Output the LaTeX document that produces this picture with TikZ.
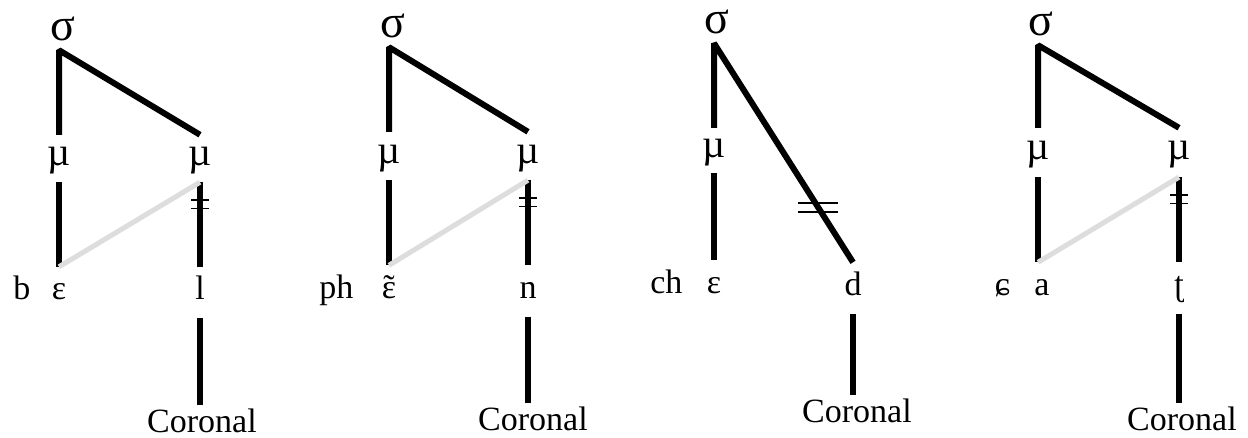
\documentclass[tikz,border=0pt]{standalone}
\usepackage{fontspec}
\setmainfont{Liberation Serif}
\usetikzlibrary{positioning}
\definecolor{linkGray}{RGB}{221,221,221}
\newcommand{\nasaleps}{\ooalign{ε\cr\hidewidth˜\hidewidth\cr}}

\begin{document}
\begin{tikzpicture}[x=1pt, y=-1pt,
    syl/.style={font=\fontsize{46}{46}\selectfont, inner sep=0pt, text height=22pt, text depth=0pt, minimum height=40pt},
    mora/.style={font=\fontsize{40}{40}\selectfont, inner sep=0pt, text height=21pt, text depth=6pt, minimum height=47pt},
    seg/.style={font=\fontsize{34}{34}\selectfont, inner sep=0pt, text height=23pt, text depth=8pt, minimum height=51pt},
    feat/.style={font=\fontsize{34}{34}\selectfont, inner sep=3.5pt, anchor=base},
    assoc/.style={line width=6pt, line join=bevel},
    newlink/.style={line width=5pt, draw=linkGray},
    delink/.style={inner sep=0pt, outer sep=0pt, minimum width=#1, minimum height=8.5pt},
    cut/.style={line width=1.6pt},
]
\useasboundingbox (0,0) rectangle (1248,438);

% b-epsilon-l
\node[syl] (s1) at (63,30) {σ};
\node[mora] (m1a) at (59,158.5) {µ};
\node[mora] (m1b) at (200,158.5) {µ};
\node[seg] (v1) at (59,292.5) {ε};
\node[seg, left=21pt of v1] (o1) {b};
\node[seg] (c1) at (200,292.5) {l};
\node[feat] (f1) at (202,432) {Coronal};
\draw[assoc] (m1a.north) -- (m1a.north |- s1.south) -- (m1b.north);
\draw[assoc] (m1a.south) -- (v1.north);
\draw[assoc] (m1b.south) -- node[delink=18pt, pos=.26] (x1) {} (c1.north);
\draw[assoc] (c1.south) -- (c1.south |- f1.north);
\draw[newlink] (v1.north) -- (m1b.south);
\draw[cut] (x1.north west) -- (x1.north east) (x1.south west) -- (x1.south east);

% ph-epsilon-n
\node[syl] (s2) at (393,27) {σ};
\node[mora, minimum height=48pt] (m2a) at (389,156) {µ};
\node[mora, minimum height=48pt] (m2b) at (528,156) {µ};
\node[seg] (v2) at (389,291) {\nasaleps};
\node[seg, left=28pt of v2] (o2) {ph};
\node[seg] (c2) at (528,291) {n};
\node[feat] (f2) at (533,430) {Coronal};
\draw[assoc] (m2a.north) -- (m2a.north |- s2.south) -- (m2b.north);
\draw[assoc] (m2a.south) -- (v2.north);
\draw[assoc] (m2b.south) -- node[delink=18pt, pos=.26] (x2) {} (c2.north);
\draw[assoc] (c2.south) -- (c2.south |- f2.north);
\draw[newlink] (v2.north) -- (m2b.south);
\draw[cut] (x2.north west) -- (x2.north east) (x2.south west) -- (x2.south east);

% ch-epsilon-d
\node[syl] (s3) at (717,23) {σ};
\node[mora, minimum height=45pt] (m3a) at (714,150.5) {µ};
\node[seg] (v3) at (714,286) {ε};
\node[seg, left=24pt of v3] (o3) {ch};
\node[seg] (c3) at (853,288) {d};
\node[feat] (f3) at (857,422) {Coronal};
\draw[assoc] (m3a.north) -- (m3a.north |- s3.south) -- node[delink=40pt, pos=.75] (x3) {} (c3.north);
\draw[assoc] (m3a.south) -- (v3.north);
\draw[assoc] (c3.south) -- (c3.south |- f3.north);
\draw[cut] (x3.north west) -- (x3.north east) (x3.south west) -- (x3.south east);

% c-curl-a-t-retroflex
\node[syl] (s4) at (1041,25) {σ};
\node[mora, minimum height=49pt] (m4a) at (1038,152.5) {µ};
\node[mora, minimum height=49pt] (m4b) at (1179,152.5) {µ};
\node[seg] (v4) at (1042,288) {a};
\node[seg, left=24pt of v4] (o4) {ɕ};
\node[seg] (c4) at (1179,288) {ʈ};
\node[feat] (f4) at (1182,430) {Coronal};
\draw[assoc] (m4a.north) -- (m4a.north |- s4.south) -- (m4b.north);
\draw[assoc] (m4a.south) -- (m4a.south |- v4.north);
\draw[assoc] (m4b.south) -- node[delink=18pt, pos=.26] (x4) {} (c4.north);
\draw[assoc] (c4.south) -- (c4.south |- f4.north);
\draw[newlink] (m4a.south |- v4.north) -- (m4b.south);
\draw[cut] (x4.north west) -- (x4.north east) (x4.south west) -- (x4.south east);
\end{tikzpicture}
\end{document}
